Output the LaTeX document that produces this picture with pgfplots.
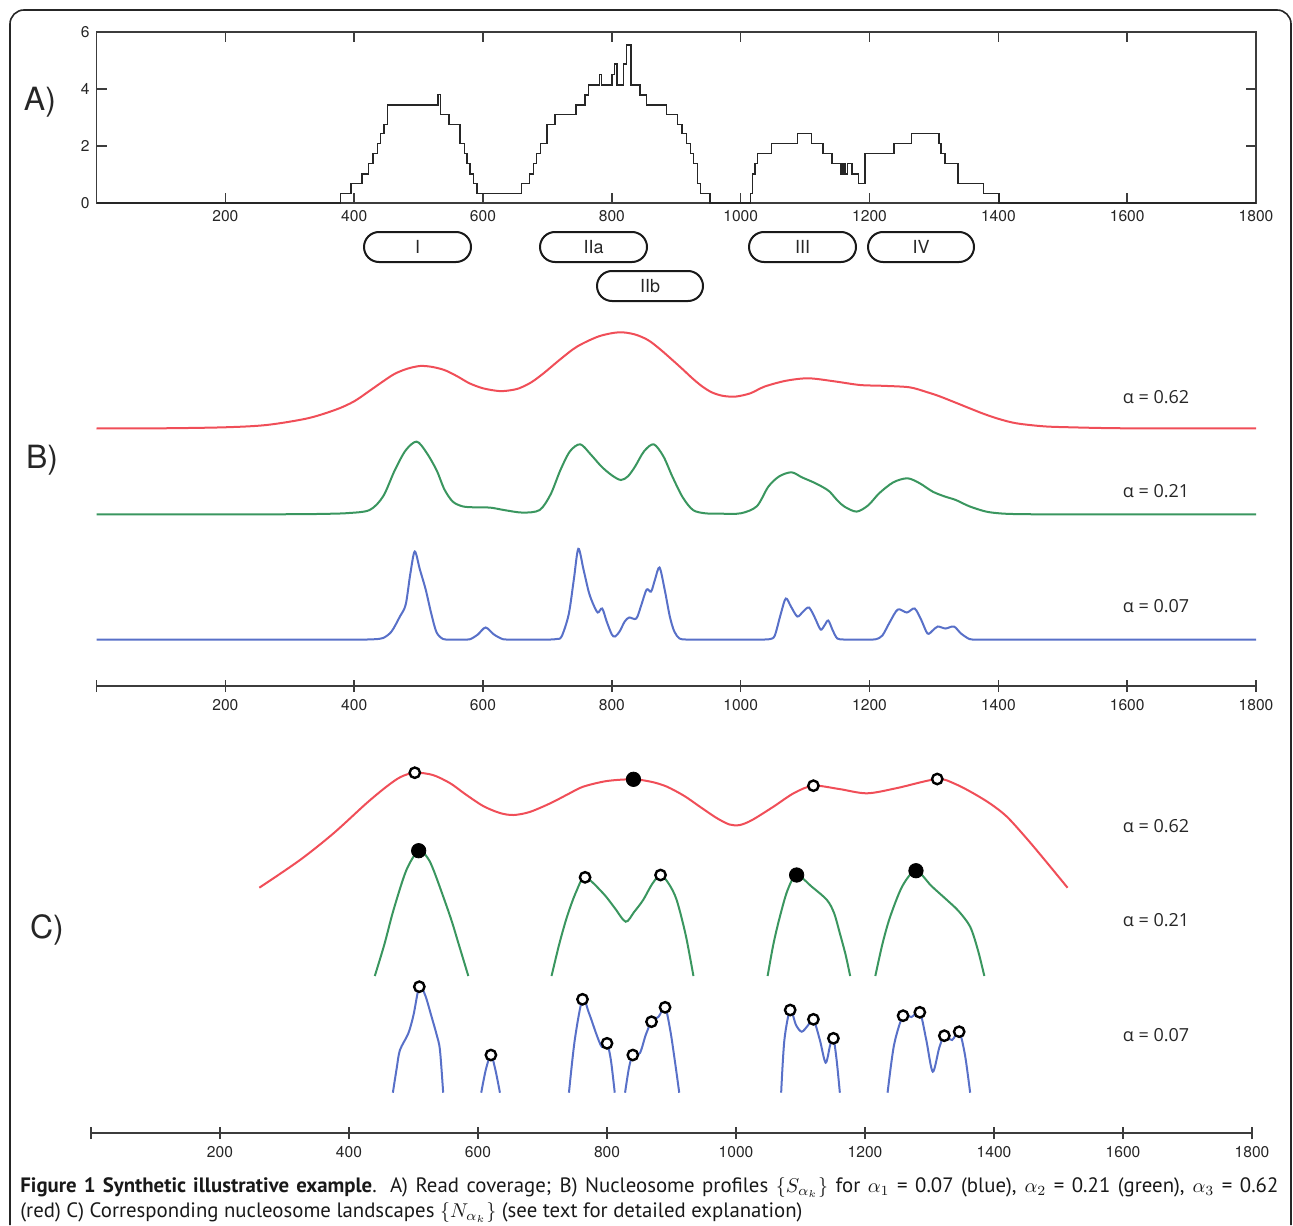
\documentclass[border=0pt]{standalone}
\usepackage{pgfplots}
\pgfplotsset{compat=1.18}
\usepackage{fontspec}
\setmainfont{TeX Gyre Heros}
\newfontfamily\capfont{PT Sans}
\newfontfamily\alfont{Open Sans}
\definecolor{cred}{RGB}{240,78,88}
\definecolor{cgreen}{RGB}{58,150,95}
\definecolor{cblue}{RGB}{88,112,200}
\definecolor{axgray}{RGB}{60,60,60}
\pgfplotsset{
 base/.style={scale only axis, xmin=0, xmax=1800, clip=false,
   /pgf/number format/assume math mode=true,
   /pgf/number format/1000 sep={},
   tick label style={font=\fontsize{7.8}{9}\selectfont, text=black!85},
   axis line style={line width=0.8pt, draw=axgray},
   every tick/.style={line width=0.8pt, draw=axgray},
   tick align=inside},
 ovl/.style={scale only axis, xmin=0, xmax=1800, hide axis, clip=false},
 rc/.style={cred, line width=1pt, smooth},
 gc/.style={cgreen, line width=1pt, smooth},
 bc/.style={cblue, line width=1pt, smooth},
 om/.style={only marks, mark=*, mark size=2.6pt, mark options={draw=black, fill=white, line width=1.2pt}},
 fm/.style={only marks, mark=*, mark size=3.6pt, mark options={draw=black, fill=black}},
}
\begin{document}
\begin{tikzpicture}
% ---------------- Panel A ----------------
\begin{axis}[base, at={(48.25pt,-101.5pt)}, anchor=south west,
  width=579.75pt, height=85.5pt, ymin=0, ymax=6,
  xtick={200,400,...,1800}, ytick={0,2,4,6}, major tick length=5pt]
\addplot[const plot, line width=0.75pt, black!85] coordinates {
(0,0) (379,0.34) (395,0.68) (412,1.02) (422,1.38) (429,1.73) (436,2.08) (441,2.44) (446,2.76) (452,3.44)
(530,3.8) (534,3.1) (547,2.76) (564,2.08) (571,1.73) (575,1.38) (580,1.02) (585,0.68) (591,0.34)
(660,0.68) (672,1.02) (678,1.38) (683,1.73) (689,2.08) (699,2.76) (712,3.1) (744,3.44) (758,3.79) (764,4.14)
(781,4.5) (784,4.14) (800,4.5) (804,4.87) (808,4.14) (818,4.87) (823,5.55) (830,4.14) (844,3.79) (854,3.44)
(885,3.1) (902,2.76) (909,2.44) (916,2.08) (922,1.73) (927,1.38) (933,0.68) (938,0.34) (952,0)
(1015,0.34) (1018,1.02) (1022,1.38) (1026,1.73) (1048,2.08) (1088,2.44) (1110,2.08) (1128,1.73) (1142,1.38)
(1156,1.02) (1159,1.38) (1162,1.02) (1166,1.38) (1173,1.02) (1183,0.68) (1193,1.73) (1238,2.08) (1265,2.44)
(1308,2.08) (1311,1.73) (1317,1.38) (1337,0.68) (1377,0.34) (1401,0) (1800,0)};
\end{axis}
% ---------------- Panel B ----------------
\begin{axis}[base, at={(48.25pt,-343pt)}, anchor=south west,
  width=579.75pt, height=190pt, ymin=-46.5, ymax=333.5,
  axis x line=bottom, axis y line=none, axis line style={-},
  xtick={0,200,...,1800}, xticklabels={,200,400,600,800,1000,1200,1400,1600,1800},
  major tick length=6pt]
\addplot[bc, tension=0.5] coordinates {
(0,0) (150,0) (300,0) (370,0) (405,0) (420,0) (432,0.3) (445,1.5) (458,8) (471,23) (480,35) (487,65) (494,88) (502,70)
(511,50) (520,25) (528,7) (538,0.5) (548,0) (560,0) (570,0) (580,0.3) (592,5) (604,12) (617,5) (631,0.3) (645,0)
(665,0) (690,0) (705,0) (714,0.5) (722,3) (733,25) (741,60) (748,90.7) (756,70) (764,48) (770,37)
(778,27) (785,31) (792,18) (800,5) (805,3) (812,8) (820,18) (827,22) (838,21) (846,35) (854,50) (861,48) (867,60)
(874,72) (882,50) (890,23) (897,8) (905,1) (915,0) (930,0) (955,0) (990,0) (1020,0) (1037,0) (1046,0.5) (1053,4)
(1062,25) (1070,41) (1078,33) (1088,23) (1097,28) (1106,32) (1115,22) (1124,10) (1130,14) (1136,19) (1143,9)
(1150,1) (1160,0) (1172,0) (1187,0) (1200,0) (1210,0.3) (1220,4) (1232,18)
(1244,30) (1258,27) (1270,31) (1280,20) (1290,6) (1298,9) (1306,13) (1318,11) (1331,13) (1342,6) (1355,0.5) (1365,0)
(1380,0) (1405,0) (1450,0) (1550,0) (1700,0) (1800,0)};
\end{axis}
\begin{axis}[ovl, at={(48.25pt,-343pt)}, anchor=south west,
  width=579.75pt, height=190pt, ymin=-171.7, ymax=208.3]
\addplot[gc, tension=0.5] coordinates {
(0,0) (150,0) (250,0) (310,0.1) (350,0.4) (390,1.2) (424,4.3) (445,18) (463,44) (480,64) (497,72.7) (512,62) (528,44)
(540,25) (553,12.7) (568,8) (585,7) (611,6.7) (635,4) (662,1.7) (688,4.3) (705,20) (720,44) (735,63) (751,70) (767,60)
(784,47.7) (800,39) (814,34.3) (825,38) (836,47.7) (850,63) (865,70) (880,58) (894,37.7) (910,17) (926,4.3) (945,1)
(970,0.6) (1000,1) (1025,8) (1043,27.7) (1060,38) (1079,42) (1095,37) (1114,31.7) (1128,27) (1138,22.7) (1150,14)
(1161,7.7) (1180,2.7) (1198,9) (1215,21) (1237,32) (1259,36) (1278,31) (1298,22.7) (1316,18) (1334,14.3) (1355,8)
(1381,2.7) (1405,0.8) (1430,0.2) (1470,0) (1550,0) (1650,0) (1800,0)};
\end{axis}
\begin{axis}[ovl, at={(48.25pt,-343pt)}, anchor=south west,
  width=579.75pt, height=190pt, ymin=-257.7, ymax=122.3]
\addplot[rc] coordinates {
(0,0) (100,0) (199,1) (264,3.3) (328,10) (373,19) (400,27) (424,37.5) (445,47) (463,54.5) (482,59.5) (502,62.3) (520,61.5)
(540,58.3) (560,52) (579,45) (600,40) (624,37.3) (640,37.8) (656,40) (675,46) (694,55) (720,69) (746,81.7) (780,92)
(811,96) (835,94) (856,88.3) (875,79) (894,68.3) (910,59) (925,50) (940,42) (955,36) (972,32.5) (992,31.7)
(1015,35) (1037,41.7) (1070,47.5) (1105,50) (1145,47) (1185,43.3) (1220,42.5) (1262,41) (1290,36) (1310,31.7)
(1340,24) (1375,15) (1400,9.5) (1428,5) (1470,2) (1512,1) (1600,0) (1800,0)};
\end{axis}
% ---------------- Panel C ----------------
\begin{axis}[base, at={(45.5pt,-566.5pt)}, anchor=south west,
  width=580.5pt, height=200pt, ymin=0, ymax=400,
  axis x line=bottom, axis y line=none, axis line style={-},
  xtick={0,200,...,1800}, xticklabels={,200,400,600,800,1000,1200,1400,1600,1800},
  major tick length=6pt]
% red
\addplot[rc] coordinates {
(261,245.3) (324,273) (376,299.7) (427,329.7) (458,346.3) (480,356) (502,360.3)
(530,358) (557,349.7) (580,339) (608,327) (634,320) (655,318) (680,321) (712,329.7) (740,339) (763,346.3) (800,352)
(841,353.7) (870,351) (893,346.3) (920,337) (944,326.3) (970,315) (990,308.5) (1006,308) (1025,313) (1058,326.3)
(1090,340) (1120,347.3) (1160,344) (1203,339.7) (1250,345) (1312,354) (1340,349) (1368,339.7) (1395,329)
(1420,316.3) (1450,295) (1480,272) (1514,245.3)};
% green
\addplot[gc] coordinates {(440,157) (455,189) (469,223) (489,263) (508,282.3) (522,275) (533,259.7) (557,216.3) (570,189) (585,157)};
\addplot[gc] coordinates {(714,157) (726,189) (738,216.3) (752,241) (766,255.7) (794,239.7) (812,225) (829,211.3) (842,221) (856,233) (870,249) (883,258) (896,249) (908,233) (922,198) (934,157)};
\addplot[gc] coordinates {(1049,157) (1058,189) (1068,216.3) (1080,243) (1094,258) (1118,246) (1141,233) (1152,220) (1161,199.7) (1170,178) (1177,157)};
\addplot[gc] coordinates {(1216,157) (1227,189) (1239,216.3) (1258,247) (1279,262.3) (1303,247) (1327,233) (1345,222) (1363,206.3) (1375,183) (1385,157)};
% blue
\addplot[bc] coordinates {(468,40.3) (474,65) (479,83) (492,99.7) (500,118) (509,146.3) (518,138) (528,116.3) (536,98) (541,83) (546,40.3)};
\addplot[bc] coordinates {(605,40.3) (612,63) (620,78) (627,63) (634,40.3)};
\addplot[bc] coordinates {(741,40.3) (750,93) (762,133.7) (772,120) (784,98) (792,86.3) (800,89.7) (806,73) (812,40.3)};
\addplot[bc] coordinates {(828,40.3) (834,65) (840,78) (851,80) (860,98) (869,111.3) (880,116.3) (890,125.7) (898,103) (905,73) (912,40.3)};
\addplot[bc] coordinates {(1070,40.3) (1075,93) (1084,123) (1093,108) (1102,101.3) (1112,108) (1120,113.7) (1130,93) (1139,70.3) (1146,88) (1151,94.7) (1156,73) (1161,40.3)};
\addplot[bc] coordinates {(1235,40.3) (1245,88) (1259,117.3) (1272,116) (1285,120.7) (1295,93) (1305,61.3) (1315,85) (1323,97.3) (1335,93) (1346,101.3) (1355,78) (1363,40.3)};
% markers
\addplot[om] coordinates {(502,360.3) (1120,347.3) (1312,354) (766,255.7) (883,258)
 (509,146.3) (620,78) (762,133.7) (800,89.7) (840,78) (869,111.3) (890,125.7) (1084,123) (1120,113.7) (1151,94.7)
 (1259,117.3) (1285,120.7) (1323,97.3) (1346,101.3)};
\addplot[fm] coordinates {(841,353.7) (508,282.3) (1094,258) (1279,262.3)};
\end{axis}
% ---------------- annotations ----------------
\begin{scope}[x=0.5pt, y=-0.5pt]
\draw[line width=0.8pt, black!85, rounded corners=7pt] (10,1225) -- (10,10) -- (1291,10) -- (1291,1225);
\node[font=\fontsize{16}{18}\selectfont, text=black!85] at (40,102) {A)};
\node[font=\fontsize{16}{18}\selectfont, text=black!85] at (42,460) {B)};
\node[font=\fontsize{16}{18}\selectfont, text=black!85] at (47,930) {C)};
\begin{scope}[line width=1pt, black!90]
\draw[rounded corners=7.5pt] (364,232) rectangle (471,262);
\draw[rounded corners=7.5pt] (540,232) rectangle (647,262);
\draw[rounded corners=7.5pt] (597,271) rectangle (703,301);
\draw[rounded corners=7.5pt] (749,232) rectangle (856,262);
\draw[rounded corners=7.5pt] (868,232) rectangle (974,262);
\end{scope}
\begin{scope}[every node/.style={font=\fontsize{9}{10}\selectfont, text=black!85}]
\node at (417.5,247) {I};
\node at (593.5,247) {IIa};
\node at (650,286) {IIb};
\node at (802.5,247) {III};
\node at (921,247) {IV};
\end{scope}
\begin{scope}[every node/.style={font=\alfont\fontsize{9}{10}\selectfont, text=black!85}]
\node at (1156,397) {α = 0.62};
\node at (1156,491) {α = 0.21};
\node at (1156,606) {α = 0.07};
\node at (1156,826) {α = 0.62};
\node at (1156,920) {α = 0.21};
\node at (1156,1035) {α = 0.07};
\end{scope}
\node[anchor=base west, inner sep=0pt, text width=629pt, align=justify,
  font=\capfont\fontsize{10.4}{12.5}\selectfont, text=black!90] at (20,1192)
 {{\bfseries Figure 1 Synthetic illustrative example}. A) Read coverage; B) Nucleosome profiles $\{S_{\alpha_k}\}$ for $\alpha_1$ = 0.07 (blue), $\alpha_2$ = 0.21 (green), $\alpha_3$ = 0.62\linebreak (red) C) Corresponding nucleosome landscapes $\{N_{\alpha_k}\}$ (see text for detailed explanation)};
\pgfresetboundingbox
\path (0,0) rectangle (1293,1225);
\end{scope}
\end{tikzpicture}
\end{document}
